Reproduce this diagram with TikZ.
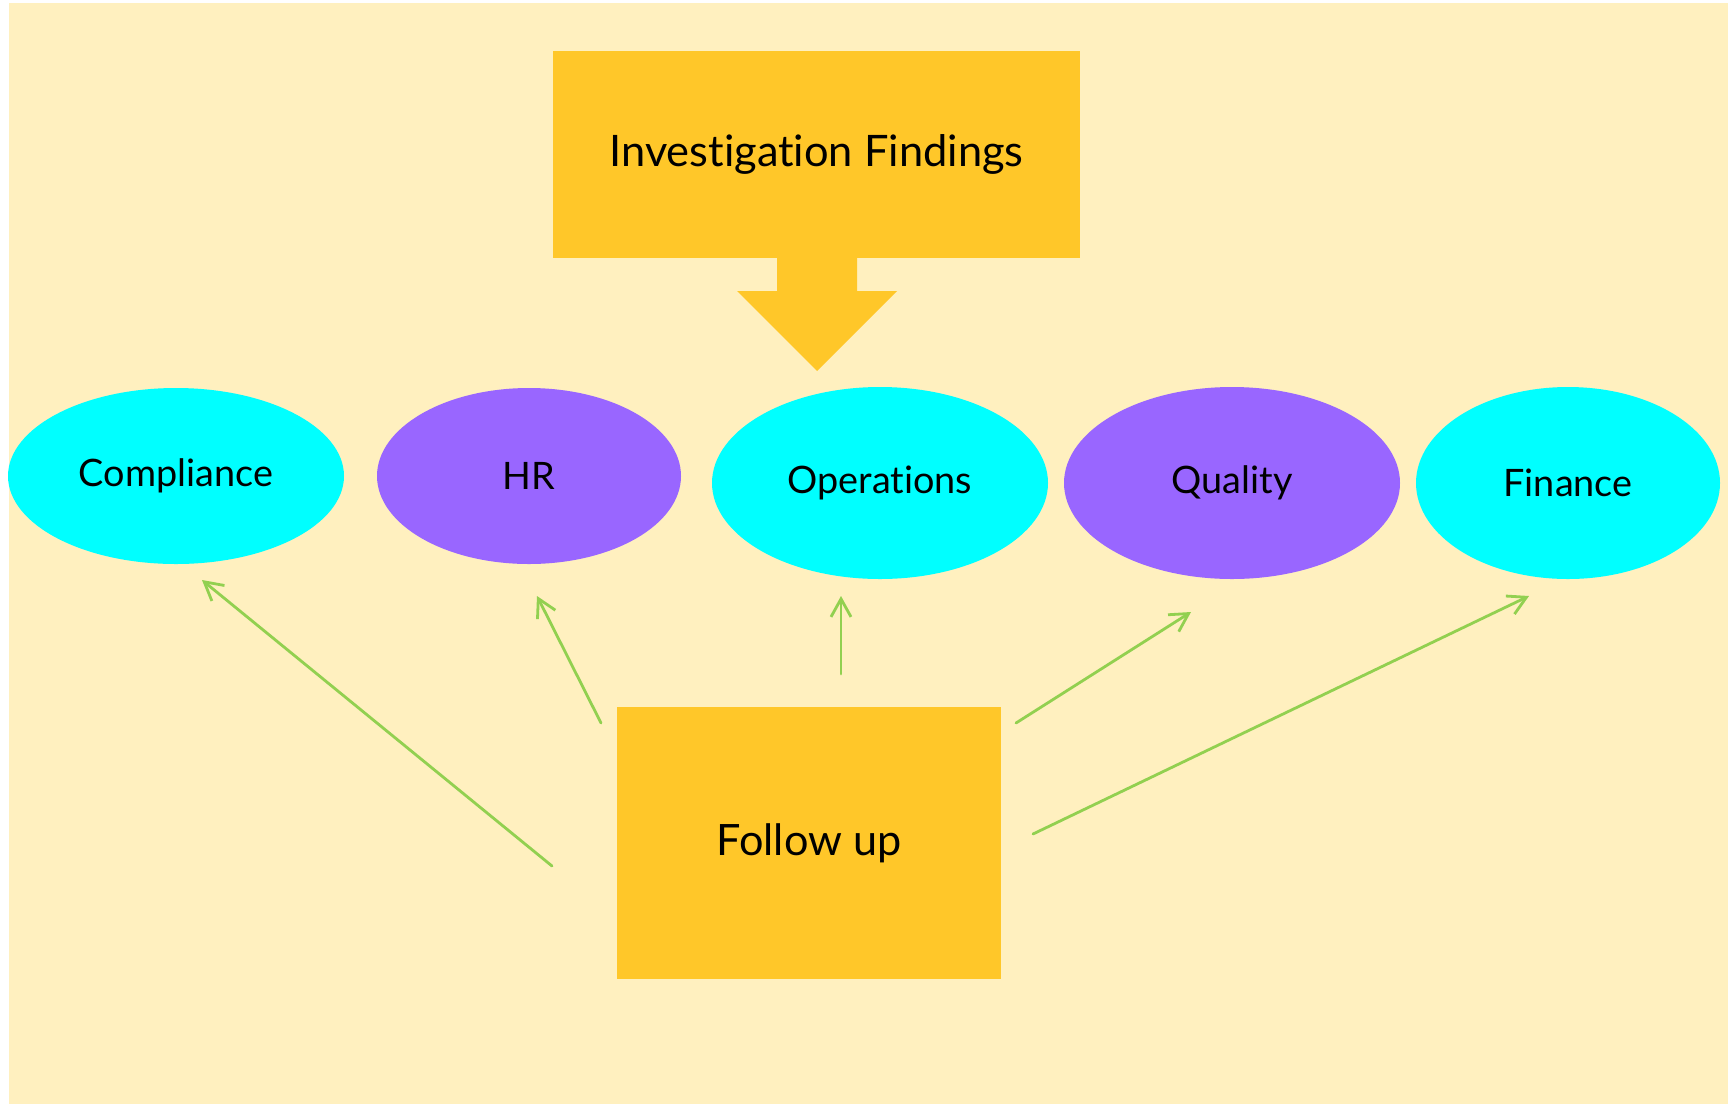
\documentclass[tikz,border=0pt]{standalone}
\usepackage{fontspec}
\setmainfont{Lato}[Ligatures={NoCommon,NoRare}]
\usetikzlibrary{arrows.meta,shapes.geometric}
\definecolor{bgc}{HTML}{FFF0BF}
\definecolor{gold}{HTML}{FFC729}
\definecolor{aqua}{HTML}{00FFFF}
\definecolor{violet}{HTML}{9966FF}
\definecolor{leaf}{HTML}{92D050}
\tikzset{
  box/.style={fill=gold, draw=none, inner sep=0pt, text=black},
  oval/.style={ellipse, draw=none, inner sep=0pt, text=black, font=\fontsize{18.9}{21}\selectfont},
  link/.style={draw=leaf, line width=1.4pt, line cap=round, -{Straight Barb[length=9pt,width=10pt,line width=1.4pt]}}
}
\begin{document}
\begin{tikzpicture}[x=0.5pt,y=-0.5pt]
\useasboundingbox (0,0) rectangle (1728,1104);
\fill[bgc] (9,3) rectangle (1728,1104);
% top box
\node[box, minimum width=263.5pt, minimum height=103.5pt, font=\fontsize{21.7}{24}\selectfont] (inv) at (816.5,154.5) {Investigation Findings};
% block arrow
\fill[gold] (777,257) -- (857,257) -- (857,291) -- (897,291) -- (817,371) -- (737,291) -- (777,291) -- cycle;
% ellipses
\node[oval, fill=aqua, minimum width=168pt, minimum height=88pt] (comp) at (176,476) {Compliance};
\node[oval, fill=violet, minimum width=152pt, minimum height=88pt] (hr) at (529,476) {HR};
\node[oval, fill=aqua, minimum width=168pt, minimum height=96pt] (ops) at (880,483) {Operations};
\node[oval, fill=violet, minimum width=168pt, minimum height=96pt] (qual) at (1232,483) {Quality};
\node[oval, fill=aqua, minimum width=152pt, minimum height=96pt] (fin) at (1568,483) {Finance};
% follow up
\node[box, minimum width=192pt, minimum height=136pt, font=\fontsize{21.6}{24}\selectfont] (fol) at (809,843) {Follow up};
% connector end points
\coordinate (s1) at (552,866); \coordinate (e1) at (202,580);
\coordinate (s2) at (601,723); \coordinate (e2) at (537,596);
\coordinate (s3) at (841,674); \coordinate (e3) at (841,596);
\coordinate (s4) at (1016,723); \coordinate (e4) at (1191,612);
\coordinate (s5) at (1033,834); \coordinate (e5) at (1529,596);
\draw[link] (s1) -- (e1);
\draw[link] (s2) -- (e2);
\draw[link] (s3) -- (e3);
\draw[link] (s4) -- (e4);
\draw[link] (s5) -- (e5);
\end{tikzpicture}
\end{document}
